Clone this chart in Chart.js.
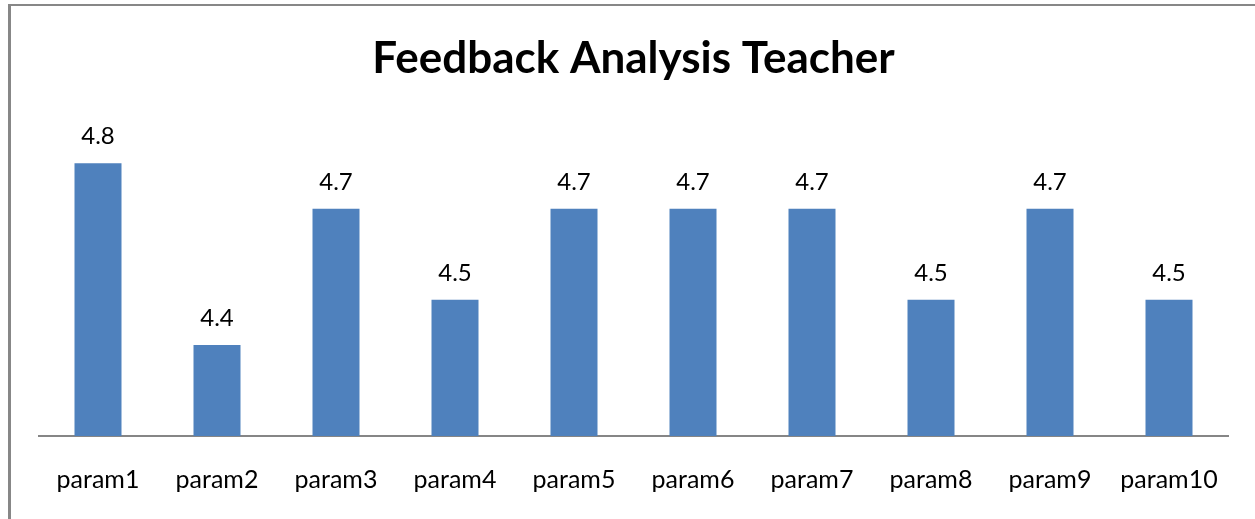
<!DOCTYPE html>
<html>
<head>
<meta charset="utf-8">
<script src="https://cdn.jsdelivr.net/npm/chart.js@4"></script>
<style>
  html, body { margin: 0; padding: 0; background: #fff; }
  #wrap { position: relative; width: 1255px; height: 519px; overflow: hidden; }
  #frame { position: absolute; left: 8px; top: 4px; right: -10px; bottom: -10px;
           border-left: 3px solid #878787; border-top: 2px solid #878787; }
  #chart { position: absolute; left: 0; top: 0; }
</style>
</head>
<body>
<div id="wrap">
  <div id="frame"></div>
  <canvas id="chart" width="1255" height="519"></canvas>
</div>
<script>
// ── data ──
const categories = ['param1', 'param2', 'param3', 'param4', 'param5',
                    'param6', 'param7', 'param8', 'param9', 'param10'];
const scores = [4.8, 4.4, 4.7, 4.5, 4.7, 4.7, 4.7, 4.5, 4.7, 4.5];
const chartTitle = 'Feedback Analysis Teacher';
const axisMin = 4.2;
const axisMax = 4.9;

const FONT = "Lato, 'Open Sans', sans-serif";

// value labels above each bar
const valueLabels = {
  id: 'valueLabels',
  afterDatasetsDraw(chart) {
    const ctx = chart.ctx;
    const meta = chart.getDatasetMeta(0);
    ctx.save();
    ctx.fillStyle = '#000';
    ctx.font = `24px ${FONT}`;
    ctx.textAlign = 'center';
    ctx.textBaseline = 'alphabetic';
    meta.data.forEach((bar, i) => {
      ctx.fillText(String(scores[i]), bar.x, bar.y - 19);
    });
    ctx.restore();
  }
};

new Chart(document.getElementById('chart'), {
  type: 'bar',
  data: {
    labels: categories,
    datasets: [{
      data: scores,
      backgroundColor: '#4F81BD',
      borderWidth: 0,
      categoryPercentage: 1,
      barPercentage: 0.395
    }]
  },
  options: {
    responsive: false,
    animation: false,
    layout: { padding: { left: 38.5, right: 26.5, top: 0, bottom: -5 } },
    plugins: {
      legend: { display: false },
      tooltip: { enabled: false },
      title: {
        display: true,
        text: chartTitle,
        color: '#000',
        font: { family: FONT, size: 44, weight: 'bold', lineHeight: 1.2 },
        padding: { top: 32, bottom: 33 }
      }
    },
    scales: {
      x: {
        grid: { display: false, drawTicks: false },
        border: { display: true, color: '#868686', width: 2 },
        ticks: {
          color: '#000',
          padding: 29,
          maxRotation: 0,
          font: { family: FONT, size: 25, lineHeight: 1.2 }
        }
      },
      y: {
        display: false,
        min: axisMin,
        max: axisMax
      }
    }
  },
  plugins: [valueLabels]
});
</script>
</body>
</html>
